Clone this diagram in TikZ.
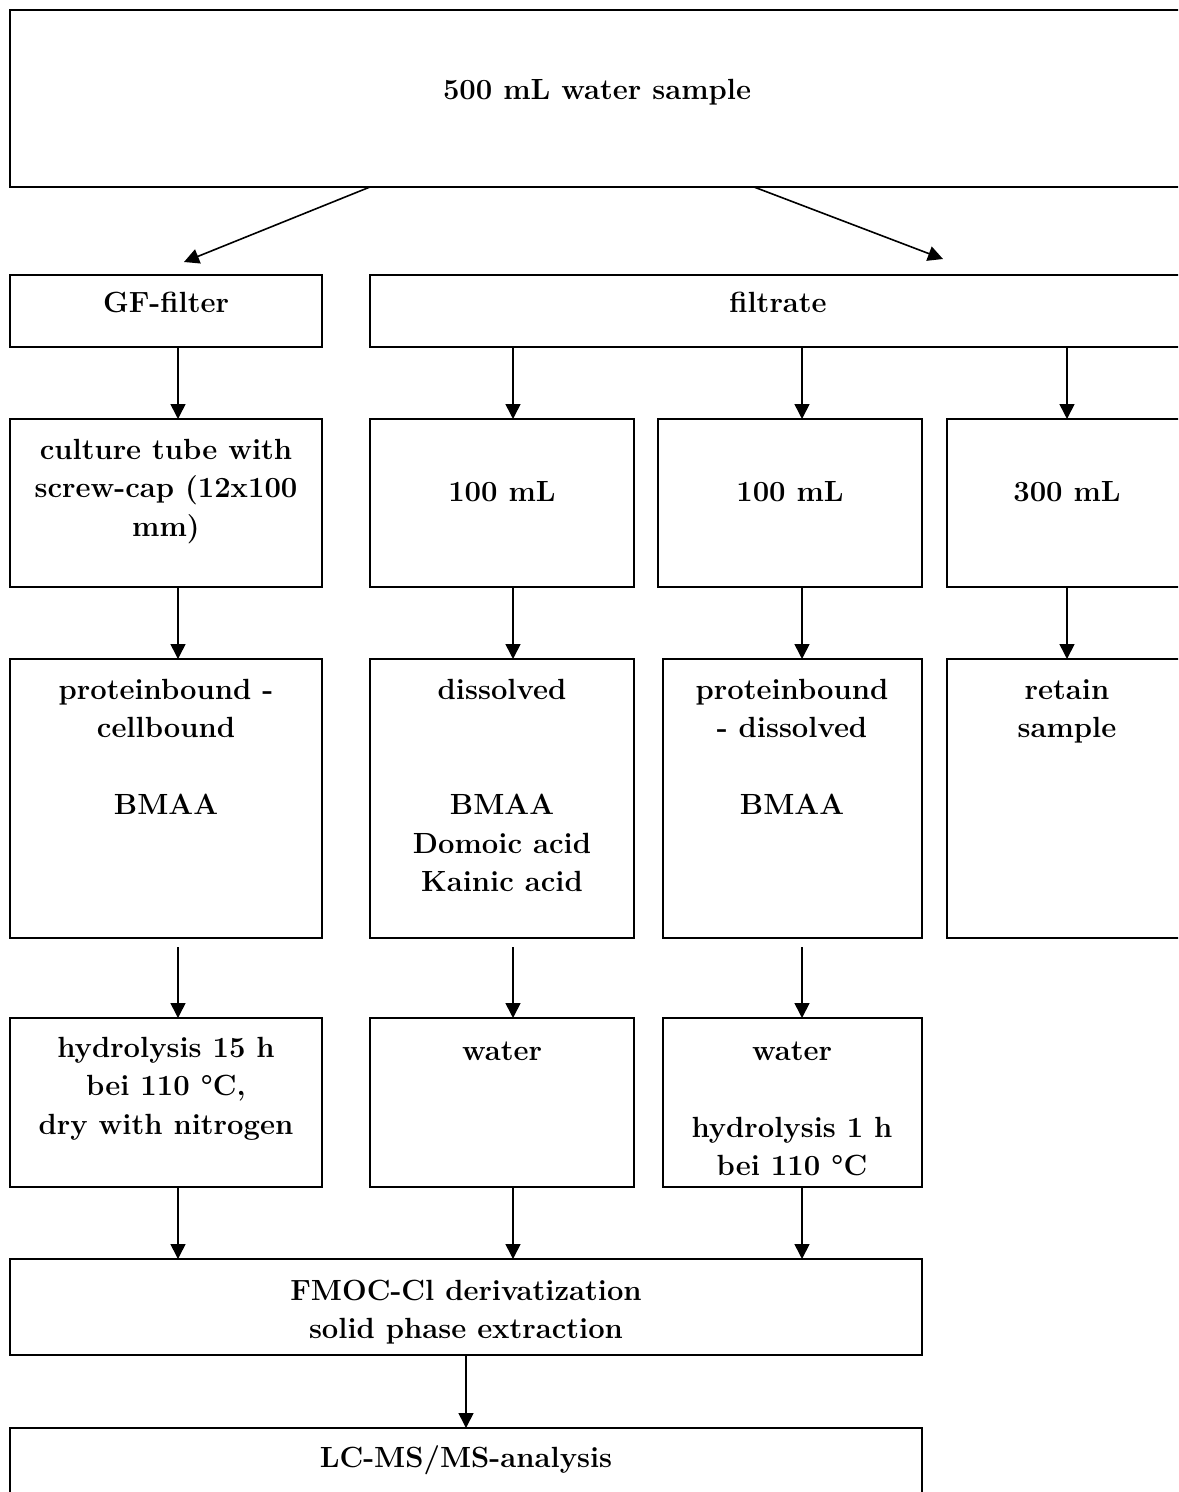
\documentclass[tikz,border=0pt]{standalone}
\usetikzlibrary{arrows.meta,calc}
\newcommand{\pbox}[5]{\node[box, minimum width={(#4-#2)*0.5pt}, minimum height={(#5-#3)*0.5pt}] (#1) at ({(#2+#4)/2},{(#3+#5)/2}) {};}
\begin{document}
\begin{tikzpicture}[x=0.5pt,y=-0.5pt,
  box/.style={draw, line width=1.1pt, inner sep=0pt, outer sep=0pt},
  txt/.style={font=\fontsize{14.6}{19.25}\selectfont\bfseries, align=center, inner sep=0pt, anchor=base},
  arr/.style={line width=0.8pt, -{Triangle[length=7.5pt,width=7.5pt]}}]
\clip (0,0) rectangle (1178,1492);
\fill[white] (0,0) rectangle (1178,1492);
% boxes
\pbox{top}{10}{10}{1186}{187}
\pbox{gf}{10}{275}{322}{347}
\pbox{fil}{370}{275}{1186}{347}
\pbox{ca}{10}{419}{322}{587}
\pbox{cb}{370}{419}{634}{587}
\pbox{cc}{658}{419}{922}{587}
\pbox{cd}{947}{419}{1187}{587}
\pbox{da}{10}{659}{322}{938}
\pbox{db}{370}{659}{634}{938}
\pbox{dc}{663}{659}{922}{938}
\pbox{dd}{947}{659}{1187}{938}
\pbox{ea}{10}{1018}{322}{1187}
\pbox{eb}{370}{1018}{634}{1187}
\pbox{ec}{663}{1018}{922}{1187}
\pbox{fm}{10}{1259}{922}{1355}
\pbox{lc}{10}{1428}{922}{1505}
% texts (anchor = baseline of the last line)
\node[txt] (ttop) at (597,100) {500 mL water sample};
\node[txt] (tgf) at (166,313) {GF-filter};
\node[txt] (tfil) at (778,313) {filtrate};
\node[txt] (tca) at (166,536) {culture tube with\\screw-cap (12x100\\mm)};
\node[txt] (tcb) at (502,501) {100 mL};
\node[txt] (tcc) at (790,501) {100 mL};
\node[txt] (tcd) at (1067,501) {300 mL};
\node[txt] (tda) at (166,814.5) {proteinbound -\\cellbound\\[19.25pt]BMAA};
\node[txt] (tdb) at (502,891.5) {dissolved\\[38.5pt]BMAA\\Domoic acid\\Kainic acid};
\node[txt] (tdc) at (792,814.5) {proteinbound\\- dissolved\\[19.25pt]BMAA};
\node[txt] (tdd) at (1067,737.5) {retain\\sample};
\node[txt] (tea) at (166,1134) {hydrolysis 15 h\\bei 110 \textdegree C,\\dry with nitrogen};
\node[txt] (teb) at (502,1060) {water};
\node[txt] (tec) at (792,1175.5) {water\\[19.25pt]hydrolysis 1 h\\bei 110 \textdegree C};
\node[txt] (tfm) at (466,1338.5) {FMOC-Cl derivatization\\solid phase extraction};
\node[txt] (tlc) at (466,1467) {LC-MS/MS-analysis};
% arrows
\coordinate (p1) at (184,262);
\coordinate (p2) at (943,259);
\draw[arr] (top.south -| 370,0) -- (p1);
\draw[arr] (top.south -| 754,0) -- (p2);
\draw[arr] (gf.south -| 178,0) -- (ca.north -| 178,0);
\draw[arr] (fil.south -| 513,0) -- (cb.north -| 513,0);
\draw[arr] (fil.south -| 802,0) -- (cc.north -| 802,0);
\draw[arr] (fil.south -| 1067,0) -- (cd.north -| 1067,0);
\draw[arr] (ca.south -| 178,0) -- (da.north -| 178,0);
\draw[arr] (cb.south -| 513,0) -- (db.north -| 513,0);
\draw[arr] (cc.south -| 802,0) -- (dc.north -| 802,0);
\draw[arr] (cd.south -| 1067,0) -- (dd.north -| 1067,0);
\draw[arr] ($(da.south -| 178,0)+(0,9)$) -- (ea.north -| 178,0);
\draw[arr] ($(db.south -| 513,0)+(0,9)$) -- (eb.north -| 513,0);
\draw[arr] ($(dc.south -| 802,0)+(0,9)$) -- (ec.north -| 802,0);
\draw[arr] (ea.south -| 178,0) -- (fm.north -| 178,0);
\draw[arr] (eb.south -| 513,0) -- (fm.north -| 513,0);
\draw[arr] (ec.south -| 802,0) -- (fm.north -| 802,0);
\draw[arr] (fm.south) -- (lc.north);
\end{tikzpicture}
\end{document}
